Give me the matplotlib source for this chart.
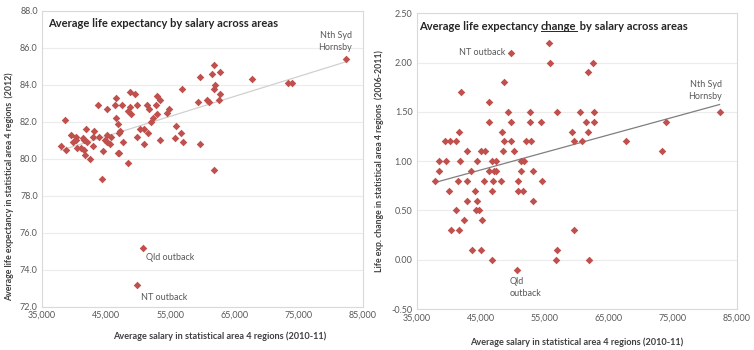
import matplotlib
matplotlib.use("Agg")
import matplotlib.pyplot as plt
import numpy as np
from matplotlib.ticker import FuncFormatter
from matplotlib.lines import Line2D

plt.rcParams['font.family'] = ['Lato', 'DejaVu Sans']

# ---- Data: left chart (salary vs life expectancy 2012) ----
left_salary = [82400, 73400, 73990, 67800, 61840, 61580, 62720, 62050, 61790, 62720,
               62570, 59660, 59350, 60650, 61010, 56860, 59660, 61790, 55870, 55710,
               56750, 57010, 54730, 54470, 52860, 53330, 52760, 51360, 51610, 52860,
               52240, 51980, 53330, 50890, 50320, 51500, 49800, 50890, 49800, 48710,
               49440, 48760, 48450, 48860, 47510, 46470, 46420, 45180, 43670, 46520,
               46890, 47200, 47040, 47560, 46780, 47040, 48340, 45800, 45130, 44810,
               45130, 45640, 44550, 43830, 43000, 43100, 43000, 41800, 41960, 41330,
               41490, 41130, 41490, 41700, 42480, 40400, 40350, 40240, 39570, 39780,
               38630, 38690, 37910, 44280, 50730, 49740]
left_life = [85.4, 84.1, 84.1, 84.3, 85.1, 84.6, 84.7, 84.0, 83.8, 83.5,
             83.2, 84.4, 83.1, 83.2, 83.1, 83.8, 80.8, 79.4, 81.8, 81.1,
             81.4, 80.9, 82.7, 82.5, 83.4, 83.2, 82.9, 82.9, 82.7, 82.4,
             82.2, 82.0, 81.0, 81.6, 81.6, 81.4, 81.2, 80.8, 82.9, 83.6,
             83.5, 82.8, 82.6, 82.4, 82.9, 83.3, 82.9, 82.7, 82.9, 82.2,
             81.9, 81.5, 81.4, 80.9, 80.3, 80.3, 79.8, 81.2, 81.3, 81.0,
             80.9, 80.8, 80.4, 81.2, 81.2, 81.5, 80.7, 81.6, 80.9, 81.1,
             81.0, 80.6, 80.5, 80.2, 80.0, 80.6, 81.2, 81.0, 81.3, 80.9,
             82.1, 80.5, 80.7, 78.9, 75.2, 73.2]

# ---- Data: right chart (salary vs life expectancy change 2006-2011) ----
right_salary = [49660, 55640, 55800, 62510, 61680, 41860, 48570, 46340, 46340, 49300,
                49660, 52730, 52730, 54340, 56840, 60480, 62610, 61470, 62610, 59280,
                61680, 59540, 60840, 67660, 73840, 73330, 82270, 41600, 48260, 39470,
                40250, 41140, 48680, 49660, 52000, 52780, 42900, 45040, 45710, 48520,
                50130, 38480, 39630, 41710, 44360, 46750, 47380, 51280, 51740, 38480,
                43530, 46340, 47120, 47380, 51220, 53150,
                37810, 41450, 42850, 45560, 46960, 48160, 50760, 54600,
                40040, 44100, 46800, 50810, 51540,
                42800, 44360, 53200,
                41140, 44310, 44720,
                42380, 45140,
                40300, 41550, 59600,
                43680, 44980, 56950,
                46700, 56680, 61880,
                50600]
right_change = [2.10, 2.20, 2.00, 2.00, 1.90, 1.70, 1.80, 1.60, 1.40, 1.50,
                1.40, 1.50, 1.40, 1.40, 1.50, 1.50, 1.50, 1.40, 1.40, 1.30,
                1.30, 1.20, 1.20, 1.20, 1.40, 1.10, 1.50, 1.30, 1.30, 1.20,
                1.20, 1.20, 1.20, 1.20, 1.20, 1.20, 1.10, 1.10, 1.10, 1.10,
                1.10, 1.00, 1.00, 1.00, 1.00, 1.00, 1.00, 1.00, 1.00, 0.90,
                0.90, 0.90, 0.90, 0.90, 0.90, 0.90,
                0.80, 0.80, 0.80, 0.80, 0.80, 0.80, 0.80, 0.80,
                0.70, 0.70, 0.70, 0.70, 0.70,
                0.60, 0.60, 0.60,
                0.50, 0.50, 0.50,
                0.40, 0.40,
                0.30, 0.30, 0.30,
                0.10, 0.10, 0.10,
                0.00, 0.00, 0.00,
                -0.10]

x_ticks = [35000, 45000, 55000, 65000, 75000, 85000]
left_yticks = [72, 74, 76, 78, 80, 82, 84, 86, 88]
right_yticks = [-0.5, 0.0, 0.5, 1.0, 1.5, 2.0, 2.5]

left_title = "Average life expectancy by salary across areas"
right_title_parts = ["Average life expectancy ", "change", " by salary across areas"]
xlabel = "Average salary in statistical area 4 regions (2010-11)"
left_ylabel = "Average life expectancy in statistical area 4 regions  (2012)"
right_ylabel = "Life exp. change in statistical area 4 regions  (2006-2011)"

MARKER_COLOR = "#c0504d"
TICK_COLOR = "#595959"
LABEL_COLOR = "#404040"
GRID_COLOR = "#ececec"
FRAME_COLOR = "#d9d9d9"

fig = plt.figure(figsize=(7.54, 3.5), dpi=100)
axL = fig.add_axes([0.0557, 0.1237, 0.4253, 0.845])
axR = fig.add_axes([0.5527, 0.117, 0.4248, 0.845])


def style(ax):
    for s in ax.spines.values():
        s.set_color(FRAME_COLOR)
        s.set_linewidth(0.8)
    ax.tick_params(axis='both', length=0, labelsize=6.5, colors=TICK_COLOR, pad=3)
    ax.grid(axis='y', color=GRID_COLOR, linewidth=0.8)
    ax.set_axisbelow(True)
    ax.set_xlim(35000, 85000)
    ax.set_xticks(x_ticks)
    ax.xaxis.set_major_formatter(FuncFormatter(lambda v, p: f"{int(v):,}"))
    ax.set_xlabel(xlabel, fontsize=6.6, fontweight='bold', color=LABEL_COLOR, labelpad=11)


def trend(ax, xs, ys, color, lw):
    xs = np.asarray(xs, float)
    ys = np.asarray(ys, float)
    m, b = np.polyfit(xs, ys, 1)
    xx = np.array([xs.min(), xs.max()])
    ax.plot(xx, m * xx + b, color=color, linewidth=lw, zorder=2)


# Left chart
style(axL)
axL.set_ylim(72, 88)
axL.set_yticks(left_yticks)
axL.yaxis.set_major_formatter(FuncFormatter(lambda v, p: f"{v:.1f}"))
trend(axL, left_salary, left_life, "#d0d0d0", 0.9)
axL.scatter(left_salary, left_life, marker='D', s=15, color=MARKER_COLOR, linewidths=0, zorder=3)
axL.set_ylabel(left_ylabel, fontsize=6.3, fontweight='bold', color=LABEL_COLOR)
axL.yaxis.set_label_coords(-0.088, 0.405)
axL.xaxis.set_label_coords(0.553, -0.085)
axL.text(0.02, 0.975, left_title, transform=axL.transAxes, fontsize=8, fontweight='bold',
         color="#262626", va='top', ha='left')
axL.annotate("Nth Syd\nHornsby", (left_salary[0], left_life[0]), xytext=(4, 5),
             textcoords='offset points', ha='right', va='bottom', fontsize=6.5,
             color=TICK_COLOR, linespacing=1.4)
axL.annotate("Qld outback", (left_salary[84], left_life[84]), xytext=(2, -4),
             textcoords='offset points', ha='left', va='top', fontsize=6.5, color=TICK_COLOR)
axL.annotate("NT outback", (left_salary[85], left_life[85]), xytext=(3, -6),
             textcoords='offset points', ha='left', va='top', fontsize=6.5, color=TICK_COLOR)

# Right chart
style(axR)
axR.set_ylim(-0.5, 2.5)
axR.set_yticks(right_yticks)
axR.yaxis.set_major_formatter(FuncFormatter(lambda v, p: f"{v:.2f}"))
trend(axR, right_salary, right_change, "#7f7f7f", 0.9)
axR.scatter(right_salary, right_change, marker='D', s=15, color=MARKER_COLOR, linewidths=0, zorder=3)
axR.set_ylabel(right_ylabel, fontsize=6.3, fontweight='bold', color=LABEL_COLOR, labelpad=5)
axR.annotate("NT outback", (right_salary[0], right_change[0]), xytext=(-4, 0),
             textcoords='offset points', ha='right', va='center', fontsize=6.5, color=TICK_COLOR)
axR.annotate("Qld\noutback", (right_salary[-1], right_change[-1]), xytext=(-5, -5),
             textcoords='offset points', ha='left', va='top', fontsize=6.5,
             color=TICK_COLOR, linespacing=1.5)
axR.annotate("Nth Syd\nHornsby", (right_salary[26], right_change[26]), xytext=(2, 8),
             textcoords='offset points', ha='right', va='bottom', fontsize=6.5,
             color=TICK_COLOR, linespacing=1.4)

# Right title with underlined word
fig.canvas.draw()
renderer = fig.canvas.get_renderer()
x0, y0 = 0.007, 0.975
cur = x0
for i, part in enumerate(right_title_parts):
    t = axR.text(cur, y0, part, transform=axR.transAxes, fontsize=8, fontweight='bold',
                 color="#262626", va='top', ha='left')
    bb = t.get_window_extent(renderer=renderer).transformed(axR.transAxes.inverted())
    if i == 1:
        ul_y = bb.y0 + 0.003
        axR.add_line(Line2D([bb.x0, bb.x1], [ul_y, ul_y], transform=axR.transAxes,
                            color="#262626", linewidth=0.7))
    cur = bb.x1

fig.savefig("out.png", dpi=100)
